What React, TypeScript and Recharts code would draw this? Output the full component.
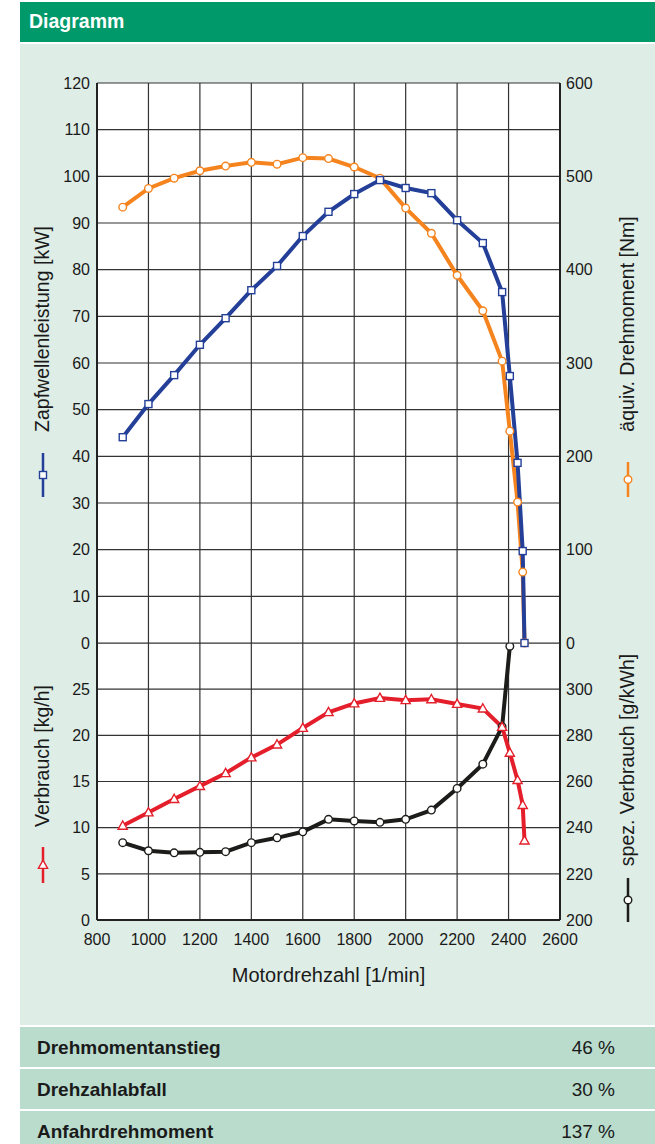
import React from "react";
import { LineChart, Line, XAxis, YAxis, CartesianGrid } from "recharts";

// Achsen
const rpmTicks = [800, 1000, 1200, 1400, 1600, 1800, 2000, 2200, 2400, 2600];
const kwTicks = [0, 10, 20, 30, 40, 50, 60, 70, 80, 90, 100, 110, 120];
const nmTicks = [0, 100, 200, 300, 400, 500, 600];
const kghTicks = [0, 5, 10, 15, 20, 25];
const gkwhTicks = [200, 220, 240, 260, 280, 300];

// oberes Diagramm
const rpmVoll = [900, 1000, 1100, 1200, 1300, 1400, 1500, 1600, 1700, 1800, 1900, 2000, 2100, 2200, 2300, 2375, 2405, 2435, 2455, 2462];
const leistung = [44.1, 51.2, 57.4, 63.9, 69.6, 75.6, 80.8, 87.2, 92.4, 96.2, 99.2, 97.5, 96.4, 90.6, 85.7, 75.2, 57.2, 38.6, 19.7, 0];
const drehmoment = [467, 487, 498, 506, 511, 515, 513, 520, 519, 510, 498, 466, 439, 394, 356, 302, 227, 151, 76, 0];

// unteres Diagramm
const verbrauch = [10.2, 11.65, 13.1, 14.5, 15.9, 17.6, 19.0, 20.8, 22.5, 23.45, 24.05, 23.8, 23.9, 23.4, 22.9, 20.9, 18.1, 15.15, 12.45, 8.6];
const spezVerbrauch = [233.5, 230, 229.1, 229.3, 229.6, 233.5, 235.6, 238.2, 243.6, 242.9, 242.3, 243.6, 247.6, 257, 267.5, 283.7, 318.6];

const kennwerte = [
  { name: "Drehmomentanstieg", wert: "46 %" },
  { name: "Drehzahlabfall", wert: "30 %" },
  { name: "Anfahrdrehmoment", wert: "137 %" },
];

const BLAU = "#233f98";
const ORANGE = "#f5841f";
const ROT = "#e41f2b";
const SCHWARZ = "#1c1c1a";
const GRID = "#333";
const FONT = "'Liberation Sans', Arial, sans-serif";
const TEXT = "#1a1a1a";

const topData = rpmVoll.map((rpm, i) => ({ rpm, kw: leistung[i], nm: drehmoment[i] }));
const bottomData = rpmVoll.map((rpm, i) => ({
  rpm,
  kgh: verbrauch[i],
  gkwh: i < spezVerbrauch.length ? spezVerbrauch[i] : null,
}));

const squareDot = (color: string) => (p: any) => {
  if (p.cx == null || p.cy == null) return <g key={`s${p.index}`} />;
  return (
    <rect key={`s${p.index}`} x={p.cx - 3.5} y={p.cy - 3.5} width={7} height={7}
      fill="#fff" stroke={color} strokeWidth={1.4} />
  );
};

const circleDot = (color: string) => (p: any) => {
  if (p.cx == null || p.cy == null) return <g key={`c${p.index}`} />;
  return <circle key={`c${p.index}`} cx={p.cx} cy={p.cy} r={3.8} fill="#fff" stroke={color} strokeWidth={1.4} />;
};

const triDot = (color: string) => (p: any) => {
  if (p.cx == null || p.cy == null) return <g key={`t${p.index}`} />;
  const { cx, cy } = p;
  return (
    <path key={`t${p.index}`} d={`M${cx},${cy - 4.8}L${cx + 4.6},${cy + 3.4}L${cx - 4.6},${cy + 3.4}Z`}
      fill="#fff" stroke={color} strokeWidth={1.4} />
  );
};

function Symbol({ x, y1, y2, color, marker }: { x: number; y1: number; y2: number; color: string; marker: string }) {
  const cy = (y1 + y2) / 2;
  return (
    <svg style={{ position: "absolute", left: x - 8, top: y1, overflow: "visible" }} width={16} height={y2 - y1}>
      <line x1={8} x2={8} y1={0} y2={y2 - y1} stroke={color} strokeWidth={2.5} />
      {marker === "square" && <rect x={4.5} y={cy - y1 - 3.5} width={7} height={7} fill="#fff" stroke={color} strokeWidth={1.4} />}
      {marker === "circle" && <circle cx={8} cy={cy - y1} r={3.8} fill="#fff" stroke={color} strokeWidth={1.4} />}
      {marker === "tri" && (
        <path d={`M8,${cy - y1 - 4.8}L12.6,${cy - y1 + 3.4}L3.4,${cy - y1 + 3.4}Z`} fill="#fff" stroke={color} strokeWidth={1.4} />
      )}
    </svg>
  );
}

function RotText({ x, y, text }: { x: number; y: number; text: string }) {
  return (
    <div
      style={{
        position: "absolute",
        left: x,
        top: y,
        transform: "translate(-50%, -50%) rotate(-90deg)",
        whiteSpace: "nowrap",
        fontSize: 19.5,
        color: TEXT,
        fontFamily: FONT,
        lineHeight: 1,
      }}
    >
      {text}
    </div>
  );
}

const tickStyle = { fontSize: 16, fill: TEXT, fontFamily: FONT };
const axisLine = { stroke: "#222", strokeWidth: 2 };
const gridLine = { stroke: GRID, strokeWidth: 1.2 };

export default function App() {
  return (
    <div style={{ position: "absolute", left: 0, top: 0, width: 655, height: 1144, background: "#fff", fontFamily: FONT, overflow: "hidden" }}>
      <div style={{ position: "absolute", left: 20, top: 2, width: 635, height: 40, background: "#00996a" }}>
        <div style={{ position: "absolute", left: 9, top: 10, color: "#fff", fontWeight: 700, fontSize: 19.5, lineHeight: 1 }}>Diagramm</div>
      </div>
      <div style={{ position: "absolute", left: 20, top: 44, width: 635, height: 981, background: "#deede6" }} />

      {/* unteres Diagramm */}
      <div style={{ position: "absolute", left: 0, top: 633 }}>
        <LineChart width={655} height={340} data={bottomData} margin={{ top: 10, right: 0, left: 0, bottom: 13 }}>
          <CartesianGrid yAxisId="kgh" {...gridLine} fill="#fff" fillOpacity={1} />
          <XAxis type="number" dataKey="rpm" domain={[800, 2600]} ticks={rpmTicks} interval={0} height={40}
            tickLine={false} tickSize={0} tickMargin={14} axisLine={axisLine} tick={tickStyle} />
          <YAxis yAxisId="kgh" domain={[0, 30]} ticks={kghTicks} interval={0} width={97}
            tickLine={false} tickSize={0} tickMargin={7} axisLine={axisLine} tick={tickStyle} />
          <YAxis yAxisId="gkwh" orientation="right" domain={[200, 320]} ticks={gkwhTicks} interval={0} width={95}
            tickLine={false} tickSize={0} tickMargin={6} axisLine={axisLine} tick={tickStyle} />
          <Line yAxisId="gkwh" dataKey="gkwh" stroke={SCHWARZ} strokeWidth={4} dot={circleDot(SCHWARZ)}
            isAnimationActive={false} type="linear" />
          <Line yAxisId="kgh" dataKey="kgh" stroke={ROT} strokeWidth={4} dot={triDot(ROT)}
            isAnimationActive={false} type="linear" />
        </LineChart>
      </div>

      {/* oberes Diagramm */}
      <div style={{ position: "absolute", left: 0, top: 0 }}>
        <LineChart width={655} height={653} data={topData} margin={{ top: 83, right: 0, left: 0, bottom: 10 }}>
          <CartesianGrid yAxisId="kw" {...gridLine} fill="#fff" fillOpacity={1} />
          <XAxis type="number" dataKey="rpm" domain={[800, 2600]} ticks={rpmTicks} interval={0} orientation="top"
            height={0} tickLine={false} tickSize={0} tickFormatter={() => ""} tick={{ fontSize: 1, fill: "none" }}
            axisLine={axisLine} />
          <YAxis yAxisId="kw" domain={[0, 120]} ticks={kwTicks} interval={0} width={97}
            tickLine={false} tickSize={0} tickMargin={7} axisLine={axisLine} tick={tickStyle} />
          <YAxis yAxisId="nm" orientation="right" domain={[0, 600]} ticks={nmTicks} interval={0} width={95}
            tickLine={false} tickSize={0} tickMargin={6} axisLine={axisLine} tick={tickStyle} />
          <Line yAxisId="nm" dataKey="nm" stroke={ORANGE} strokeWidth={4} dot={circleDot(ORANGE)}
            isAnimationActive={false} type="linear" />
          <Line yAxisId="kw" dataKey="kw" stroke={BLAU} strokeWidth={4} dot={squareDot(BLAU)}
            isAnimationActive={false} type="linear" />
        </LineChart>
      </div>

      <RotText x={43} y={329} text="Zapfwellenleistung [kW]" />
      <Symbol x={43} y1={453} y2={497} color={BLAU} marker="square" />
      <RotText x={628} y={324} text="äquiv. Drehmoment [Nm]" />
      <Symbol x={628} y1={462} y2={497} color={ORANGE} marker="circle" />
      <RotText x={43} y={756} text="Verbrauch [kg/h]" />
      <Symbol x={43} y1={847} y2={883} color={ROT} marker="tri" />
      <RotText x={628} y={760} text="spez. Verbrauch [g/kWh]" />
      <Symbol x={628} y1={878} y2={922} color={SCHWARZ} marker="circle" />

      <div style={{ position: "absolute", left: 97, width: 463, top: 965, textAlign: "center", fontSize: 20, color: TEXT, lineHeight: 1 }}>
        Motordrehzahl [1/min]
      </div>

      {kennwerte.map((k, i) => (
        <div key={k.name} style={{ position: "absolute", left: 20, top: 1027 + i * 42, width: 635, height: 40, background: "#b9dccd" }}>
          <div style={{ position: "absolute", left: 17, top: 11, fontWeight: 700, fontSize: 19, color: TEXT, lineHeight: 1 }}>{k.name}</div>
          <div style={{ position: "absolute", right: 40, top: 11, fontSize: 19, color: TEXT, lineHeight: 1 }}>{k.wert}</div>
        </div>
      ))}
    </div>
  );
}
